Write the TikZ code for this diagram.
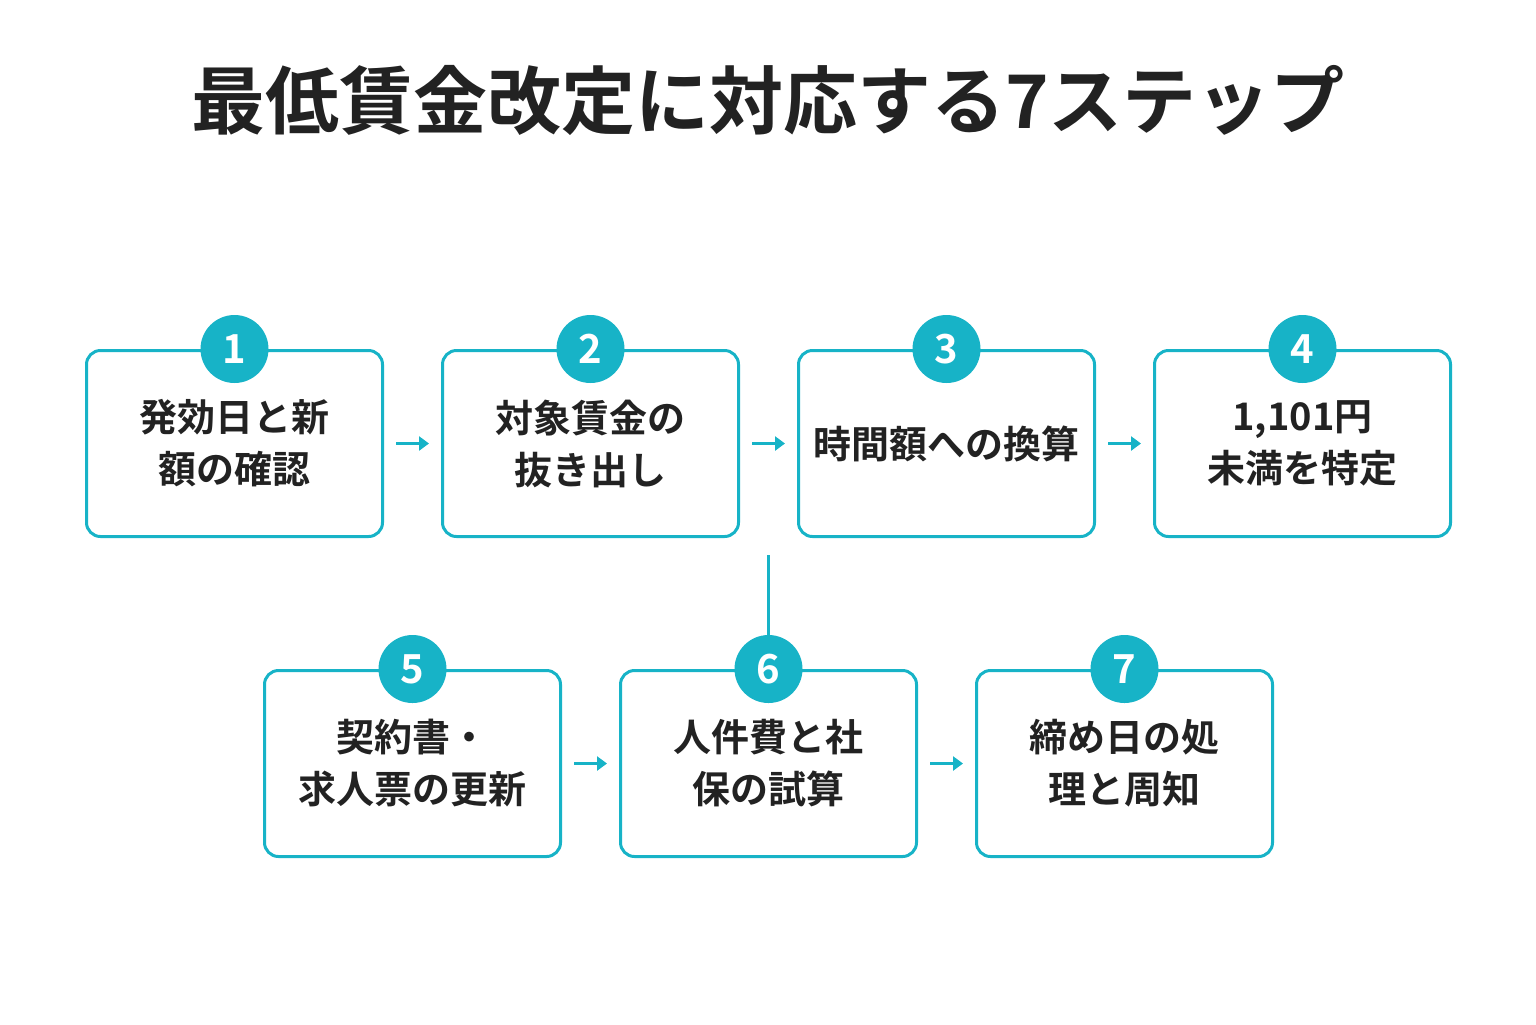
\documentclass[tikz,border=0pt]{standalone}
\usepackage{fontspec}
\setmainfont{Noto Sans CJK JP}[BoldFont={* Bold}]
\usetikzlibrary{arrows.meta}
\definecolor{teal1}{HTML}{17B3C7}
\definecolor{ink}{HTML}{222222}
\tikzset{
  stepbox/.style={draw=teal1,line width=1.5pt,rounded corners=7pt,minimum width=148pt,minimum height=93pt,align=center,font=\fontsize{19}{26}\selectfont\bfseries,text=ink},
  num/.style={circle,fill=teal1,minimum size=34pt,inner sep=0pt,text=white,font=\fontsize{20}{20}\selectfont\bfseries},
  link/.style={teal1,line width=1.5pt,-{Triangle[length=5pt,width=7pt]}}
}
\begin{document}
\begin{tikzpicture}[x=0.5pt,y=-0.5pt]
\useasboundingbox (0,0) rectangle (1536,1024);
\node[font=\fontsize{37}{37}\selectfont\bfseries,text=ink] (title) at (768,100) {最低賃金改定に対応する7ステップ};
% top row
\node[stepbox] (b1) at (234.5,443.5) {発効日と新\\額の確認};
\node[stepbox] (b2) at (590.5,443.5) {対象賃金の\\抜き出し};
\node[stepbox] (b3) at (946.5,443.5) {時間額への換算};
\node[stepbox] (b4) at (1302.5,443.5) {1,101円\\未満を特定};
% bottom row
\node[stepbox] (b5) at (412.5,763.5) {契約書・\\求人票の更新};
\node[stepbox] (b6) at (768.5,763.5) {人件費と社\\保の試算};
\node[stepbox] (b7) at (1124.5,763.5) {締め日の処\\理と周知};
\foreach \i in {1,...,7} \node[num] (n\i) at (b\i.north) {\i};
\coordinate (c23) at (768.5,555);
\draw[link] ([xshift=6pt]b1.east) -- ([xshift=-6pt]b2.west);
\draw[link] ([xshift=6pt]b2.east) -- ([xshift=-6pt]b3.west);
\draw[link] ([xshift=6pt]b3.east) -- ([xshift=-6pt]b4.west);
\draw[link] ([xshift=6pt]b5.east) -- ([xshift=-6pt]b6.west);
\draw[link] ([xshift=6pt]b6.east) -- ([xshift=-6pt]b7.west);
\draw[teal1,line width=1.5pt] (c23) -- (n6.north);
\end{tikzpicture}
\end{document}
